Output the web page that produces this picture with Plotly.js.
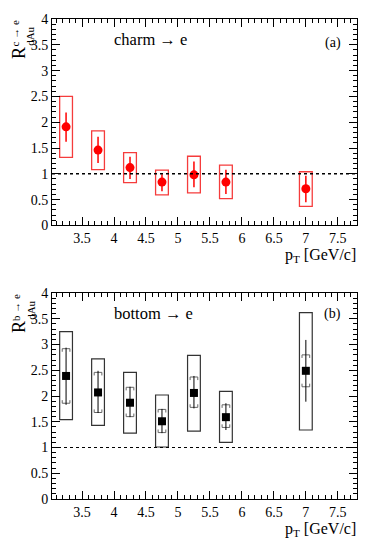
<!DOCTYPE html>
<html>
<head>
<meta charset="utf-8">
<script src="https://cdn.plot.ly/plotly-3.0.1.min.js"></script>
<style>
  html, body { margin: 0; padding: 0; background: #fff; }
  #chart { width: 374px; height: 547px; }
</style>
</head>
<body>
<div id="chart"></div>
<script>
// pT bin centres (GeV/c)
const ptC = [3.25, 3.75, 4.25, 4.75, 5.25, 5.75, 7.0];
const ptB = [3.25, 3.75, 4.25, 4.75, 5.25, 5.75, 7.0];

// charm -> e : value, stat error (up / down), systematic box (lo / hi)
const charmVal   = [1.91, 1.46, 1.12, 0.84, 0.98, 0.84, 0.71];
const charmStatU = [0.28, 0.26, 0.21, 0.15, 0.26, 0.24, 0.25];
const charmStatD = [0.29, 0.25, 0.22, 0.18, 0.24, 0.23, 0.26];
const charmSysLo = [1.32, 1.08, 0.83, 0.59, 0.63, 0.52, 0.37];
const charmSysHi = [2.50, 1.83, 1.41, 1.07, 1.34, 1.17, 1.04];

// bottom -> e : value, stat error, bracket error, systematic box
const bottomVal   = [2.39, 2.07, 1.87, 1.51, 2.06, 1.59, 2.49];
const bottomStatU = [0.55, 0.42, 0.31, 0.24, 0.33, 0.27, 0.60];
const bottomStatD = [0.56, 0.40, 0.28, 0.23, 0.30, 0.25, 0.60];
const bottomBrkHi = [2.92, 2.46, 2.17, 1.74, 2.37, 1.83, 2.80];
const bottomBrkLo = [1.86, 1.68, 1.60, 1.29, 1.78, 1.39, 2.18];
const bottomSysLo = [1.54, 1.43, 1.28, 1.01, 1.32, 1.10, 1.34];
const bottomSysHi = [3.25, 2.72, 2.46, 2.02, 2.79, 2.09, 3.62];

const serif = 'Liberation Serif';

function diff(a, b) { return a.map((v, i) => v - b[i]); }

// bracket "[ ]" ends drawn around each point
function brackets(x, lo, hi, hw, d) {
  const xs = [], ys = [];
  x.forEach((xi, i) => {
    xs.push(xi - hw, xi - hw, xi + hw, xi + hw, null);
    ys.push(hi[i] - d, hi[i], hi[i], hi[i] - d, null);
    xs.push(xi - hw, xi - hw, xi + hw, xi + hw, null);
    ys.push(lo[i] + d, lo[i], lo[i], lo[i] + d, null);
  });
  return { xs, ys };
}

const brk = brackets(ptB, bottomBrkLo, bottomBrkHi, 0.06, 0.06);

const traces = [
  {
    type: 'bar', x: ptC, y: diff(charmSysHi, charmSysLo), base: charmSysLo,
    width: 0.2, xaxis: 'x', yaxis: 'y',
    marker: { color: 'rgba(0,0,0,0)', line: { color: 'rgb(245,60,60)', width: 1.3 } },
    hoverinfo: 'skip'
  },
  {
    type: 'scatter', mode: 'markers', x: ptC, y: charmVal, xaxis: 'x', yaxis: 'y',
    marker: { color: 'rgb(255,0,0)', size: 9, symbol: 'circle' },
    error_y: { type: 'data', symmetric: false, array: charmStatU, arrayminus: charmStatD,
               color: 'rgb(255,0,0)', thickness: 1.5, width: 0 }
  },
  {
    type: 'bar', x: ptB, y: diff(bottomSysHi, bottomSysLo), base: bottomSysLo,
    width: 0.2, xaxis: 'x2', yaxis: 'y2',
    marker: { color: 'rgba(0,0,0,0)', line: { color: '#333', width: 1.2 } },
    hoverinfo: 'skip'
  },
  {
    type: 'scatter', mode: 'lines', x: brk.xs, y: brk.ys, xaxis: 'x2', yaxis: 'y2',
    line: { color: '#666', width: 1 }, connectgaps: false, hoverinfo: 'skip'
  },
  {
    type: 'scatter', mode: 'markers', x: ptB, y: bottomVal, xaxis: 'x2', yaxis: 'y2',
    marker: { color: '#000', size: 8, symbol: 'square' },
    error_y: { type: 'data', symmetric: false, array: bottomStatU, arrayminus: bottomStatD,
               color: '#000', thickness: 1, width: 0 }
  }
];

const xaxisBase = {
  range: [3.03, 7.8], dtick: 0.5, tick0: 0,
  ticks: 'inside', ticklen: 8, tickcolor: '#000', mirror: 'allticks',
  showline: true, linecolor: '#000', linewidth: 1, showgrid: false, zeroline: false,
  minor: { ticks: 'inside', dtick: 0.1, ticklen: 4, tickcolor: '#000' },
  tickfont: { family: serif, size: 14, color: '#000' }
};
const yaxisBase = {
  range: [0, 4], dtick: 0.5, tick0: 0,
  ticks: 'inside', ticklen: 8, tickcolor: '#000', mirror: 'allticks',
  showline: true, linecolor: '#000', linewidth: 1, showgrid: false, zeroline: false,
  minor: { ticks: 'inside', dtick: 0.1, ticklen: 4, tickcolor: '#000' },
  tickfont: { family: serif, size: 14, color: '#000' }
};

function label(text, x, y, size, opts) {
  return Object.assign({
    text: text, xref: 'paper', yref: 'paper', x: x, y: y,
    xanchor: 'center', yanchor: 'middle', showarrow: false, borderpad: 0,
    font: { family: serif, size: size, color: '#000' }
  }, opts || {});
}

// paper y for a pixel row
function py(px) { return (499 - px) / 480; }
const dropB = 274;   // offset of lower panel (px)

const layout = {
  width: 374, height: 547,
  margin: { l: 52, r: 17, t: 19, b: 48 },
  font: { family: serif, color: '#000' },
  paper_bgcolor: '#fff', plot_bgcolor: '#fff',
  showlegend: false, barmode: 'overlay',
  xaxis: Object.assign({}, xaxisBase, { anchor: 'y' }),
  yaxis: Object.assign({}, yaxisBase, { domain: [0.570, 1], anchor: 'x' }),
  xaxis2: Object.assign({}, xaxisBase, { anchor: 'y2' }),
  yaxis2: Object.assign({}, yaxisBase, { domain: [0, 0.429], anchor: 'x2' }),
  shapes: [
    { type: 'line', xref: 'x domain', x0: 0, x1: 1, yref: 'y', y0: 1, y1: 1,
      line: { color: '#000', width: 1.5, dash: 'dot' } },
    { type: 'line', xref: 'x2 domain', x0: 0, x1: 1, yref: 'y2', y0: 1, y1: 1,
      line: { color: '#000', width: 1.2, dash: 'dot' } }
  ],
  annotations: [
    label('charm → e', 0.199, 0.958, 16.5, { xanchor: 'left' }),
    label('(a)', 0.951, 0.951, 14, { xanchor: 'right' }),
    label('bottom → e', 0.199, 0.387, 16.5, { xanchor: 'left' }),
    label('(b)', 0.951, 0.386, 14, { xanchor: 'right' }),
    label('p<sub>T</sub> [GeV/c]', 1, 0.507, 16, { xanchor: 'right' }),
    label('p<sub>T</sub> [GeV/c]', 1, -0.064, 16, { xanchor: 'right' }),
    // rotated y titles: R with stacked superscript / subscript
    label('R', -0.108, py(46), 18, { textangle: -90, yanchor: 'top' }),
    label('c → e', -0.12, py(19), 11, { textangle: -90, yanchor: 'top' }),
    label('dAu', -0.071, py(26), 11, { textangle: -90, yanchor: 'top' }),
    label('R', -0.108, py(46 + dropB), 18, { textangle: -90, yanchor: 'top' }),
    label('b → e', -0.12, py(19 + dropB), 11, { textangle: -90, yanchor: 'top' }),
    label('dAu', -0.071, py(26 + dropB), 11, { textangle: -90, yanchor: 'top' })
  ]
};

Plotly.newPlot('chart', traces, layout, { staticPlot: true });
</script>
</body>
</html>
